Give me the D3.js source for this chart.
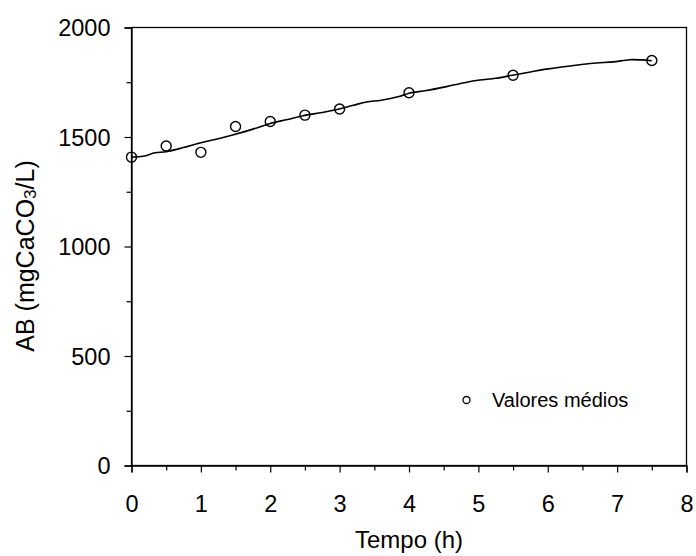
<!DOCTYPE html>
<html><head><meta charset="utf-8">
<script src="https://cdn.jsdelivr.net/npm/d3@7"></script>
<style>body{margin:0;background:#fff}text{font-family:"Liberation Sans",Arial,sans-serif;fill:#000}</style>
</head><body><svg id="c" width="696" height="556"></svg>
<script>
const pointTimes = [0, 0.5, 1, 1.5, 2, 2.5, 3, 4, 5.5, 7.5];
const pointValues = [1408, 1459, 1430, 1548, 1571, 1600, 1628, 1702, 1782, 1849];
const lineTimes = [0, 0.17, 0.34, 0.5, 0.75, 1, 1.25, 1.47, 1.75, 2, 2.25, 2.47, 2.75, 2.98, 3.2, 3.39, 3.6, 3.87, 4, 4.25, 4.54, 4.8, 5.02, 5.25, 5.49, 5.75, 5.98, 6.2, 6.46, 6.7, 6.94, 7.18, 7.35, 7.5];
const lineValues = [1409, 1412, 1428, 1433, 1452, 1474, 1492, 1510, 1536, 1562, 1580, 1597, 1612, 1627, 1645, 1660, 1668, 1686, 1700, 1712, 1730, 1748, 1760, 1768, 1782, 1797, 1810, 1820, 1830, 1838, 1843, 1853, 1852, 1848];
const xTicks = [0, 1, 2, 3, 4, 5, 6, 7, 8];
const yTicks = [0, 500, 1000, 1500, 2000];
const xMinor = [0.5, 1.5, 2.5, 3.5, 4.5, 5.5, 6.5, 7.5];
const yMinor = [250, 750, 1250, 1750];

const svg = d3.select("#c");
const L = 131.5, R = 686.5, T = 27.5, B = 465.5;
const x = d3.scaleLinear().domain([0, 8]).range([L, R]);
const y = d3.scaleLinear().domain([0, 2000]).range([B, T]);
const fs = 23.5;

// frame
svg.append("rect").attr("x", L).attr("y", T).attr("width", R - L).attr("height", B - T)
  .attr("fill", "none").attr("stroke", "#000").attr("stroke-width", 1.3);

// x axis
const xa = svg.append("g").attr("transform", `translate(0,${B})`)
  .call(d3.axisBottom(x).tickValues(xTicks).tickSize(7).tickFormat(d3.format("d")));
svg.append("g").attr("transform", `translate(0,${B})`)
  .call(d3.axisBottom(x).tickValues(xMinor).tickSize(5).tickFormat(""))
  .call(g => g.select(".domain").remove());
xa.select(".domain").attr("stroke-width", 1.3);
xa.selectAll("text").attr("font-size", fs).attr("font-family", "Liberation Sans, Arial, sans-serif").attr("dy", null).attr("y", 46);

// y axis
const ya = svg.append("g").attr("transform", `translate(${L},0)`)
  .call(d3.axisLeft(y).tickValues(yTicks).tickSize(7).tickFormat(d3.format("d")));
svg.append("g").attr("transform", `translate(${L},0)`)
  .call(d3.axisLeft(y).tickValues(yMinor).tickSize(5).tickFormat(""))
  .call(g => g.select(".domain").remove());
ya.select(".domain").attr("stroke-width", 1.3);
ya.selectAll("text").attr("font-size", fs).attr("font-family", "Liberation Sans, Arial, sans-serif").attr("x", -21).attr("dy", "0.36em");
svg.selectAll(".tick line").attr("stroke", "#000").attr("stroke-width", 1.2);

// line
const lineData = lineTimes.map((t, i) => [t, lineValues[i]]);
svg.append("path").datum(lineData)
  .attr("d", d3.line().x(d => x(d[0])).y(d => y(d[1])).curve(d3.curveCatmullRom))
  .attr("fill", "none").attr("stroke", "#000").attr("stroke-width", 1.6);

// points
svg.append("g").selectAll("circle").data(pointTimes.map((t, i) => [t, pointValues[i]]))
  .join("circle").attr("cx", d => x(d[0])).attr("cy", d => y(d[1])).attr("r", 5)
  .attr("fill", "none").attr("stroke", "#000").attr("stroke-width", 1.4);

// titles
svg.append("text").attr("x", (L + R) / 2).attr("y", 548).attr("text-anchor", "middle")
  .attr("font-size", 24).text("Tempo (h)");
const yt = svg.append("text").attr("transform", `translate(34,256) rotate(-90)`)
  .attr("text-anchor", "middle").attr("font-size", 25);
yt.append("tspan").text("AB (mgCaCO");
yt.append("tspan").attr("font-size", 17).attr("dy", 2).text("3");
yt.append("tspan").attr("dy", -2).text("/L)");

// legend
svg.append("circle").attr("cx", 466.5).attr("cy", 400).attr("r", 3.5)
  .attr("fill", "none").attr("stroke", "#000").attr("stroke-width", 1.3);
svg.append("text").attr("x", 492).attr("y", 407).attr("font-size", 20).text("Valores médios");
</script></body></html>
